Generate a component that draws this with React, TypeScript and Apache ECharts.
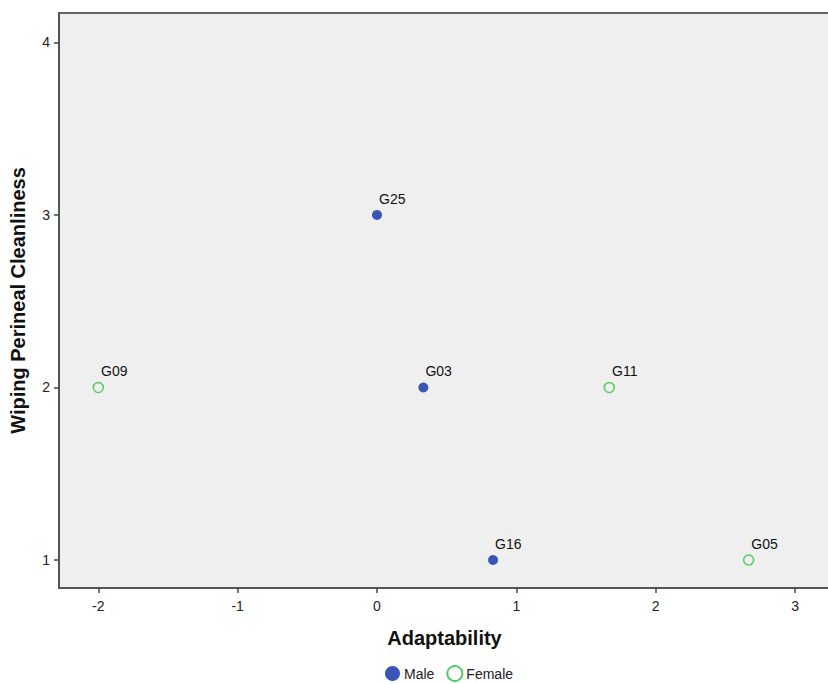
import React, { useEffect, useRef } from "react";
import * as echarts from "echarts";

const maleNames = ["G25", "G03", "G16"];
const maleX = [0, 0.333, 0.833];
const maleY = [3, 2, 1];

const femaleNames = ["G09", "G11", "G05"];
const femaleX = [-2, 1.667, 2.667];
const femaleY = [2, 2, 1];

const xTicks = [-2, -1, 0, 1, 2, 3];
const yTicks = [1, 2, 3, 4];

const FONT = "Liberation Sans, Arial, sans-serif";

export default function App() {
  const ref = useRef<HTMLDivElement>(null);
  useEffect(() => {
    if (!ref.current) return;
    const chart = echarts.init(ref.current, null, { renderer: "svg" });
    const mk = (names: string[], xs: number[], ys: number[]) =>
      names.map((n, i) => ({ name: n, value: [xs[i], ys[i]] }));
    const label = {
      show: true,
      formatter: (p: any) => p.name,
      position: "right",
      offset: [-8, -16],
      fontSize: 14,
      fontFamily: FONT,
      color: "#111",
    };
    chart.setOption({
      animation: false,
      backgroundColor: "#fff",
      textStyle: { fontFamily: FONT },
      grid: {
        left: 59,
        top: 13,
        right: 2,
        bottom: 96,
        show: true,
        backgroundColor: "#efefef",
        borderColor: "#666",
        borderWidth: 2,
      },
      xAxis: {
        type: "value",
        min: -2.282,
        max: 3.251,
        name: "Adaptability",
        nameLocation: "middle",
        nameGap: 40,
        nameTextStyle: { fontSize: 20, fontWeight: "bold", color: "#111", fontFamily: FONT },
        splitLine: { show: false },
        axisLine: { show: true, onZero: false, lineStyle: { color: "#555", width: 2 } },
        axisTick: { show: true, length: 5, customValues: xTicks, lineStyle: { color: "#444", width: 1.5 } },
        axisLabel: { customValues: xTicks, fontSize: 14, color: "#222", margin: 11, fontFamily: FONT },
      },
      yAxis: {
        type: "value",
        min: 0.838,
        max: 4.17,
        name: "Wiping Perineal Cleanliness",
        nameLocation: "middle",
        nameGap: 31,
        nameTextStyle: { fontSize: 20, fontWeight: "bold", color: "#111", fontFamily: FONT },
        splitLine: { show: false },
        axisLine: { show: true, onZero: false, lineStyle: { color: "#555", width: 2 } },
        axisTick: { show: true, length: 5, customValues: yTicks, lineStyle: { color: "#444", width: 1.5 } },
        axisLabel: { customValues: yTicks, fontSize: 14, color: "#222", margin: 9, fontFamily: FONT },
      },
      legend: {
        top: 660,
        left: 380,
        itemWidth: 15,
        itemHeight: 15,
        itemGap: 12,
        textStyle: { fontSize: 14, color: "#222", fontFamily: FONT, padding: [0, 0, 0, -1] },
        data: [
          { name: "Male", icon: "circle" },
          { name: "Female", icon: "circle" },
        ],
      },
      series: [
        {
          name: "Male",
          type: "scatter",
          symbol: "circle",
          symbolSize: 10,
          itemStyle: { color: "#3a56b4", opacity: 1 },
          label,
          data: mk(maleNames, maleX, maleY),
        },
        {
          name: "Female",
          type: "scatter",
          symbol: "circle",
          symbolSize: 10,
          itemStyle: { color: "rgba(0,0,0,0)", borderColor: "#57c964", borderWidth: 1.5, opacity: 1 },
          label,
          data: mk(femaleNames, femaleX, femaleY),
        },
      ],
    });
    return () => chart.dispose();
  }, []);
  return (
    <div
      ref={ref}
      style={{ position: "fixed", left: 0, top: 0, width: 832, height: 684 }}
    />
  );
}
